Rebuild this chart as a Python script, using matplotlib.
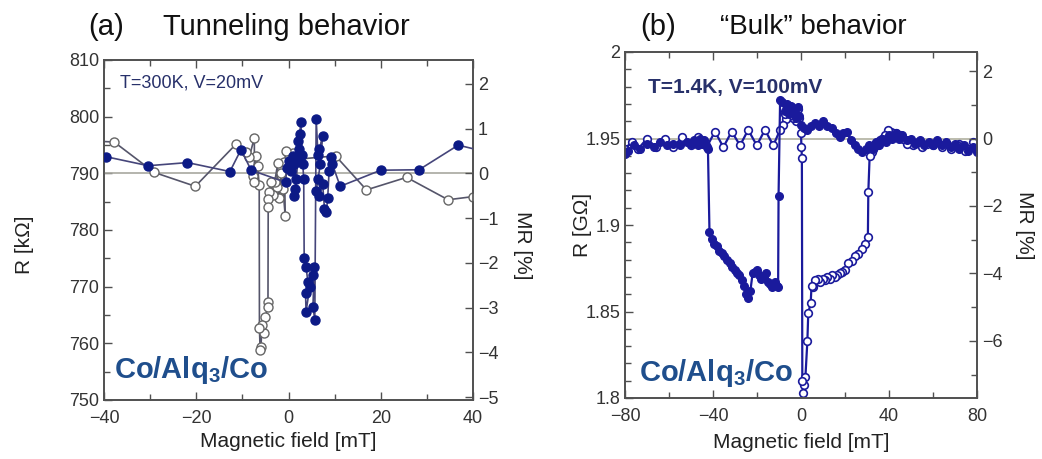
import matplotlib
matplotlib.use("Agg")
import matplotlib.pyplot as plt
from matplotlib.ticker import MultipleLocator

plt.rcParams['font.family'] = ['Liberation Sans', 'DejaVu Sans']
plt.rcParams['mathtext.fontset'] = 'custom'
plt.rcParams['mathtext.rm'] = 'Liberation Sans'
plt.rcParams['mathtext.bf'] = 'Liberation Sans:bold'

# ---------------- data: panel (a), MR [%] vs field [mT] ----------------
a_up_field = [-42, -39.5, -30.4, -21.9, -12.7, -10.3, -8.1, -0.6, -0.4, 0.1, 0.2, 0.9, 0.5, 1.3,
              1.7, 1.5, 1.3, 1.7, 2.2, 2.0, 2.4, 2.7, 2.9, 3.1, 3.3, 3.4, 3.8, 4.2, 3.7, 3.8,
              4.6, 5.3, 5.6, 5.3, 5.7, 6.0, 6.4, 6.7, 7.4, 6.9, 6.4, 6.0, 6.7, 7.4, 7.8, 8.2,
              8.5, 8.8, 9.3, 9.5, 11.2, 20.0, 28.3, 36.8, 42]
a_up_mr = [0.40, 0.37, 0.17, 0.24, 0.04, 0.53, 0.07, -0.20, 0.13, 0.17, 0.28, 0.39, 0.05, 0.21,
           0.28, -0.35, -0.50, -0.13, 0.54, 0.73, 0.87, 1.15, 0.40, 0.21, -0.13, -1.90, -2.09, -2.42, -2.68, -3.09,
           -2.55, -2.27, -2.09, -2.98, -3.27, 1.21, 0.40, 0.54, 0.84, 0.20, -0.13, -0.39, -0.50, -0.24, -0.79, -0.87,
           -0.55, 0.05, 0.36, 0.21, -0.29, 0.07, 0.08, 0.63, 0.50]

a_down_field = [42, 40, 34.6, 25.6, 16.9, 10.2, 2.4, 1.0, -0.5, -0.9, -0.7, -1.2, -1.6, -2.0, -2.5,
                -2.3, -3.0, -3.4, -3.8, -4.2, -4.35, -4.4, -4.45, -4.55, -5.0, -5.4, -5.7, -6.0, -6.15,
                -6.3, -6.35, -6.7, -7.0, -7.8, -7.4, -7.4, -8.5, -9.2, -11.4, -20.2, -29.1, -37.8, -42]
a_down_mr = [-0.52, -0.52, -0.59, -0.09, -0.37, 0.39, 0.32, 0.45, 0.50, 0.26, -0.96, -0.35, 0.00, -0.56, -0.30,
             0.24, -0.20, -0.48, -0.20, -0.42, -0.57, -0.76, -2.87, -2.98, -3.22, -3.57, -3.39, -3.89, -3.94,
             -3.46, -0.27, 0.17, 0.39, -0.05, -0.20, 0.80, 0.36, 0.47, 0.65, -0.29, 0.02, 0.70, 0.72]

# ---------------- data: panel (b), R [GOhm] vs field [mT] ----------------
b_up_field = [-80, -78.5, -76, -73, -70, -67, -64, -61, -58, -55, -52, -50, -48.5, -47, -46, -45, -44, -43,
              -42.3, -41.6, -40.5, -39.5, -38.3, -37.2, -36, -35, -33.8, -32.5, -31.3, -30.2, -29, -28, -27,
              -26, -25, -24, -23, -22, -21, -20, -19, -18, -17, -16, -15, -14, -13, -12, -11, -10.4, -10.2,
              -9.5, -8.5, -7.5, -6.5, -5.5, -4.5, -3.5, -2.5, -1.5, -0.8, 0, 1.5, 2.6, 4.5, 6.4, 8.2, 10.1,
              12, 13.9, 15.8, 17.7, 19.2, 20.8, 22.6, 24.5, 26, 27.6, 29.5, 31, 32.5, 34, 35.5, 37, 38.5, 40,
              41.5, 43, 44.5, 46, 48, 50, 52, 54, 56, 58, 60, 62, 64, 66, 68, 70, 72, 74, 76, 78, 80]
b_up_r = [1.941, 1.943, 1.946, 1.944, 1.947, 1.945, 1.948, 1.946, 1.947, 1.946, 1.948, 1.947, 1.949, 1.946,
          1.950, 1.947, 1.949, 1.946, 1.944, 1.896, 1.892, 1.889, 1.888, 1.885, 1.884, 1.882, 1.880, 1.878,
          1.876, 1.874, 1.872, 1.871, 1.868, 1.865, 1.860, 1.858, 1.862, 1.872, 1.873, 1.874, 1.871, 1.869,
          1.870, 1.872, 1.867, 1.866, 1.864, 1.867, 1.865, 1.864, 1.917, 1.972, 1.971, 1.966, 1.970, 1.964,
          1.969, 1.967, 1.962, 1.968, 1.963, 1.958, 1.956, 1.955, 1.957, 1.959, 1.957, 1.960, 1.957, 1.956,
          1.953, 1.951, 1.953, 1.954, 1.949, 1.946, 1.944, 1.942, 1.944, 1.946, 1.944, 1.948, 1.946, 1.950,
          1.948, 1.952, 1.950, 1.953, 1.950, 1.952, 1.949, 1.950, 1.947, 1.949, 1.946, 1.948, 1.946, 1.949,
          1.946, 1.948, 1.945, 1.947, 1.944, 1.946, 1.943, 1.945, 1.942]

b_down_field = [80, 78.3, 76, 74.5, 72, 70.8, 68, 66.2, 64, 62, 60, 57.1, 55, 53, 51, 49.5, 48, 46.5, 45,
                44.2, 43, 42, 41, 39.7, 38.2, 37, 35.9, 34.8, 33.6, 32.8, 32.1, 31.2, 30.6, 30.4, 29.1, 27.6,
                26.1, 24.5, 23, 21.5, 20, 18.8, 17.7, 16.5, 15.5, 14.3, 13.2, 12, 10.9, 9.8, 8.6, 7.5, 6.4,
                5.3, 4.8, 4.4, 3.3, 2.9, 2.0, 1.5, 1.0, 0.6, 0.4, 0.2, 0.0, -0.8, -1.5, -2.3, -3.0, -3.8,
                -4.5, -5.3, -6.0, -6.8, -7.5, -8.3, -9.5, -12.6, -16.4, -20.1, -24.0, -27.7, -31.5, -35.3,
                -39.1, -42.9, -46.7, -50, -54, -58, -62, -66, -70, -74, -77, -80]
b_down_r = [1.946, 1.948, 1.944, 1.943, 1.947, 1.946, 1.944, 1.947, 1.945, 1.948, 1.946, 1.947, 1.945, 1.948,
            1.946, 1.949, 1.947, 1.950, 1.952, 1.951, 1.953, 1.953, 1.954, 1.955, 1.952, 1.950, 1.949, 1.946,
            1.947, 1.944, 1.942, 1.940, 1.919, 1.893, 1.889, 1.886, 1.883, 1.882, 1.879, 1.878, 1.874, 1.873,
            1.872, 1.871, 1.870, 1.871, 1.869, 1.870, 1.868, 1.869, 1.867, 1.869, 1.868, 1.864, 1.865, 1.855,
            1.849, 1.833, 1.812, 1.8075, 1.803, 1.810, 1.939, 1.945, 1.953, 1.962, 1.967, 1.960, 1.966, 1.962,
            1.968, 1.963, 1.966, 1.961, 1.964, 1.958, 1.955, 1.946, 1.955, 1.946, 1.955, 1.946, 1.954, 1.945,
            1.954, 1.945, 1.951, 1.946, 1.951, 1.945, 1.950, 1.945, 1.950, 1.944, 1.948, 1.944]

a_r_ticks = [750, 760, 770, 780, 790, 800, 810]
a_r0 = 790.0
b_r0 = 1.95

# ---------------- figure ----------------
W, H = 1042, 459
fig = plt.figure(figsize=(W / 100, H / 100), dpi=100)


def box(l, t, r, b):
    return [l / W, 1 - b / H, (r - l) / W, (b - t) / H]


spine_c = '#505050'
tick_c = '#333333'
navy = '#0c1a86'
blue_b = '#1a1a9c'
label_blue = '#27306a'
alq_blue = '#1f4e8c'


def style_axes(ax):
    for s in ax.spines.values():
        s.set_color(spine_c)
        s.set_linewidth(1.2)
    ax.tick_params(which='both', direction='in', colors=spine_c, labelcolor=tick_c, labelsize=13)
    ax.tick_params(which='major', length=6, width=1.0)
    ax.tick_params(which='minor', length=4, width=1.0)
    ax.tick_params(axis='x', which='both', pad=7)


# ---------- panel (a) ----------
axA = fig.add_axes(box(104, 60, 473, 400))
axA2 = axA.twinx()
axA.set_xlim(-40, 40)
axA.set_ylim(750, 810)
axA2.set_ylim((750 / a_r0 - 1) * 100, (810 / a_r0 - 1) * 100)
axA.xaxis.set_major_locator(MultipleLocator(20))
axA.xaxis.set_minor_locator(MultipleLocator(10))
axA.set_yticks(a_r_ticks)
axA.yaxis.set_minor_locator(MultipleLocator(5))
axA2.yaxis.set_major_locator(MultipleLocator(1))
style_axes(axA)
style_axes(axA2)
axA.tick_params(axis='x', which='both', top=True)
axA.tick_params(axis='y', which='both', right=False)
axA2.tick_params(axis='y', which='both', left=False)

axA2.axhline(0, color='#a8a8a0', lw=1.2, zorder=1)
axA2.plot(a_down_field, a_down_mr, '-o', color='#55556a', lw=1.2, ms=6.5,
          mfc='white', mec='#666666', mew=1.0, zorder=2)
axA2.plot(a_up_field, a_up_mr, '-o', color='#45457a', lw=1.2, ms=6.5,
          mfc=navy, mec=navy, mew=1.0, zorder=3)

axA.set_xlabel('Magnetic field [mT]', fontsize=15, color='#222222')
axA.xaxis.set_label_coords(0.5, -0.095)
axA.set_ylabel('R [k\u03a9]', fontsize=15, color='#222222', va='center')
axA.yaxis.set_label_coords(-0.215, 0.456)
axA2.set_ylabel('MR [%]', fontsize=15, color='#222222', rotation=270, va='center')
axA2.yaxis.set_label_coords(1.133, 0.456)

axA.text(0.043, 0.932, 'T=300K, V=20mV', transform=axA.transAxes, fontsize=13,
         color=label_blue, va='center', ha='left')
axA.text(0.028, 0.088, r'Co/Alq$_\mathbf{3}$/Co', transform=axA.transAxes, fontsize=21,
         fontweight='bold', color=alq_blue, va='center', ha='left')

fig.text(88 / W, 1 - 27 / H, '(a)', fontsize=21, va='center', ha='left', color='#111111')
fig.text(163 / W, 1 - 27 / H, 'Tunneling behavior', fontsize=21, va='center', ha='left', color='#111111')

# ---------- panel (b) ----------
axB = fig.add_axes(box(625, 52, 977, 398))
axB2 = axB.twinx()
axB.set_xlim(-80, 80)
axB.set_ylim(1.8, 2.0)
axB2.set_ylim((1.8 / b_r0 - 1) * 100, (2.0 / b_r0 - 1) * 100)
axB.xaxis.set_major_locator(MultipleLocator(40))
axB.xaxis.set_minor_locator(MultipleLocator(20))
axB.yaxis.set_major_locator(MultipleLocator(0.05))
axB.yaxis.set_minor_locator(MultipleLocator(0.01))
axB.yaxis.set_major_formatter(plt.FuncFormatter(lambda v, p: f'{v:g}'))
axB2.yaxis.set_major_locator(MultipleLocator(2))
axB2.yaxis.set_minor_locator(MultipleLocator(1))
style_axes(axB)
style_axes(axB2)
axB.tick_params(axis='x', which='both', top=True)
axB.tick_params(axis='y', which='both', right=False)
axB2.tick_params(axis='y', which='both', left=False)

axB.axhline(b_r0, color='#b0b0a0', lw=1.2, zorder=1)
axB.plot(b_down_field, b_down_r, '-o', color=blue_b, lw=1.6, ms=5.5,
         mfc='white', mec=blue_b, mew=1.2, zorder=2)
axB.plot(b_up_field, b_up_r, '-o', color=blue_b, lw=1.6, ms=5.5,
         mfc=blue_b, mec=blue_b, mew=1.0, zorder=3)

axB.set_xlabel('Magnetic field [mT]', fontsize=15, color='#222222')
axB.xaxis.set_label_coords(0.5, -0.1)
axB.set_ylabel('R [G\u03a9]', fontsize=15, color='#222222', va='center')
axB.yaxis.set_label_coords(-0.122, 0.5)
axB2.set_ylabel('MR [%]', fontsize=15, color='#222222', rotation=270, va='center')
axB2.yaxis.set_label_coords(1.136, 0.5)

axB.text(0.065, 0.896, 'T=1.4K, V=100mV', transform=axB.transAxes, fontsize=15,
         fontweight='bold', color=label_blue, va='center', ha='left')
axB.text(0.040, 0.072, r'Co/Alq$_\mathbf{3}$/Co', transform=axB.transAxes, fontsize=21,
         fontweight='bold', color=alq_blue, va='center', ha='left')

fig.text(640 / W, 1 - 27 / H, '(b)', fontsize=21, va='center', ha='left', color='#111111')
fig.text(720 / W, 1 - 27 / H, '\u201cBulk\u201d behavior', fontsize=20, va='center', ha='left', color='#111111')

fig.savefig('out.png', dpi=100, facecolor='white')
